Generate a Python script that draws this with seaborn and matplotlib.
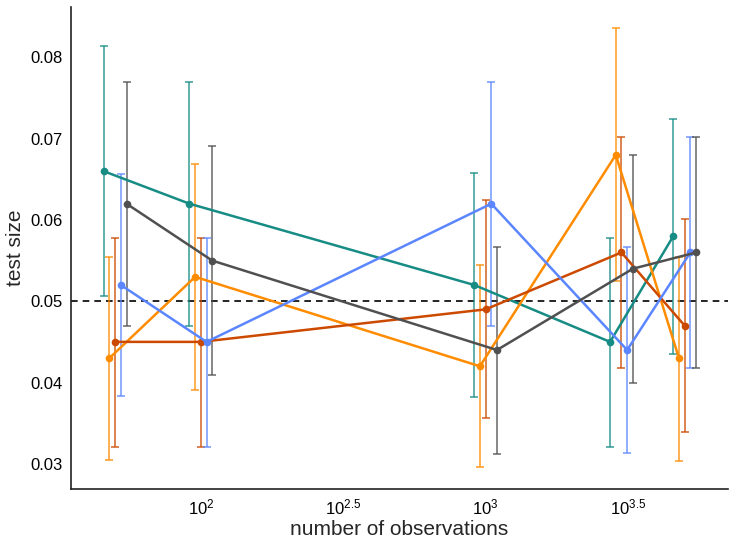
import numpy as np
import pandas as pd
import matplotlib
matplotlib.use("Agg")
import matplotlib.pyplot as plt
import seaborn as sns

# sample sizes on the x axis
n_obs = [50, 100, 1000, 3000, 5000]

# series, in dodge order (left to right inside each group)
series_names = ["teal", "orange", "red", "blue", "gray"]
series_colors = ["#178c84", "#ff8c00", "#cc4a00", "#5b86ff", "#505050"]

# estimated test size per series
size_teal = [0.066, 0.062, 0.052, 0.045, 0.058]
size_orange = [0.043, 0.053, 0.042, 0.068, 0.043]
size_red = [0.045, 0.045, 0.049, 0.056, 0.047]
size_blue = [0.052, 0.045, 0.062, 0.044, 0.056]
size_gray = [0.062, 0.055, 0.044, 0.054, 0.056]

# lower / upper interval ends
lo_teal = [0.0506, 0.047, 0.0382, 0.0321, 0.0435]
hi_teal = [0.0814, 0.077, 0.0658, 0.0578, 0.0724]
lo_orange = [0.0305, 0.0391, 0.0296, 0.0525, 0.0304]
hi_orange = [0.0555, 0.0669, 0.0544, 0.0836, 0.0555]
lo_red = [0.0321, 0.0321, 0.0356, 0.0418, 0.0339]
hi_red = [0.0578, 0.0578, 0.0624, 0.0702, 0.0601]
lo_blue = [0.0383, 0.0321, 0.047, 0.0313, 0.0418]
hi_blue = [0.0657, 0.0578, 0.0770, 0.0567, 0.0702]
lo_gray = [0.047, 0.0409, 0.0312, 0.040, 0.0418]
hi_gray = [0.077, 0.0691, 0.0567, 0.068, 0.0702]

sizes = [size_teal, size_orange, size_red, size_blue, size_gray]
lows = [lo_teal, lo_orange, lo_red, lo_blue, lo_gray]
highs = [hi_teal, hi_orange, hi_red, hi_blue, hi_gray]

# build long table, dodge positions in log space
dodge = 0.02
rows = []
for k, name in enumerate(series_names):
    shift = 10 ** ((k - 2) * dodge)
    for i, n in enumerate(n_obs):
        rows.append({"series": name, "n": n, "x": n * shift,
                     "size": sizes[k][i], "lo": lows[k][i], "hi": highs[k][i]})
df = pd.DataFrame(rows)

sns.set_theme(style="white")
plt.rcParams['font.family'] = ['Liberation Sans', 'DejaVu Sans']
plt.rcParams['mathtext.fontset'] = 'custom'
plt.rcParams['mathtext.rm'] = 'Liberation Sans'
plt.rcParams['mathtext.it'] = 'Liberation Sans'

fig = plt.figure(figsize=(7.36, 5.48), dpi=100)
ax = fig.add_axes([71 / 736, 1 - 489 / 548, (728 - 71) / 736, (489 - 7) / 548])

palette = dict(zip(series_names, series_colors))

# error bars first
for name in series_names:
    sub = df[df["series"] == name]
    ax.errorbar(sub["x"], sub["size"],
                yerr=[sub["size"] - sub["lo"], sub["hi"] - sub["size"]],
                fmt="none", ecolor=palette[name], elinewidth=1.2,
                capsize=3, capthick=1.2, alpha=0.8, zorder=2)

sns.lineplot(data=df, x="x", y="size", hue="series", palette=palette,
             hue_order=series_names, marker="o", markersize=5.5,
             markeredgewidth=0, linewidth=1.8, legend=False,
             estimator=None, sort=True, ax=ax, zorder=3)

ax.axhline(0.05, color="black", linestyle=(0, (4, 3)), linewidth=1.2, zorder=1)

ax.set_xscale("log")
ax.set_xlim(35, 7100)
ax.set_ylim(0.0269, 0.0862)
ax.set_xticks([10 ** 2, 10 ** 2.5, 10 ** 3, 10 ** 3.5])
ax.set_xticklabels([r"$\mathregular{10^{2}}$", r"$\mathregular{10^{2.5}}$",
                    r"$\mathregular{10^{3}}$", r"$\mathregular{10^{3.5}}$"])
ax.xaxis.set_minor_locator(matplotlib.ticker.NullLocator())
ax.set_yticks([0.03, 0.04, 0.05, 0.06, 0.07, 0.08])
ax.set_yticklabels(["0.03", "0.04", "0.05", "0.06", "0.07", "0.08"])
ax.tick_params(axis="both", length=0, labelsize=12, colors="black", pad=6)

ax.set_xlabel("number of observations", fontsize=15, labelpad=2)
ax.set_ylabel("test size", fontsize=15, labelpad=4)

for side in ["top", "right"]:
    ax.spines[side].set_visible(False)
for side in ["left", "bottom"]:
    ax.spines[side].set_color("#222222")
    ax.spines[side].set_linewidth(1.2)

fig.savefig("out.png", dpi=100)
